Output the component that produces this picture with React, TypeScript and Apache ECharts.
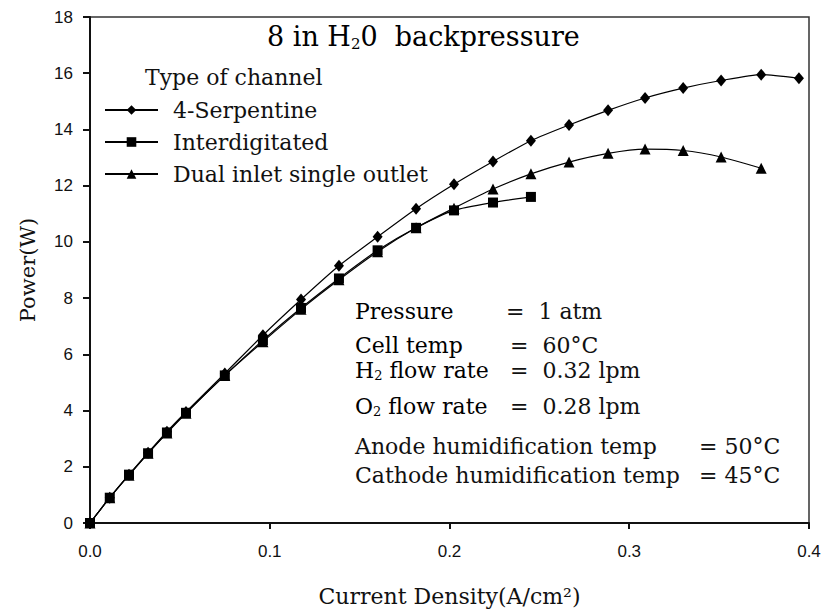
import React, { useEffect, useRef } from "react";
import * as echarts from "echarts";

// Current density (A/cm2) sample points shared by the three curves
const currentDensity = [
  0, 0.011, 0.0217, 0.0323, 0.0428, 0.0534, 0.075, 0.0962, 0.1174, 0.1385, 0.16,
  0.1814, 0.2025, 0.2242, 0.2453, 0.2665, 0.2882, 0.3088, 0.33, 0.3511, 0.3734, 0.3944,
];
const serpentinePower = [
  0, 0.9, 1.72, 2.5, 3.25, 3.95, 5.32, 6.68, 7.95, 9.15, 10.18, 11.18, 12.05, 12.86,
  13.6, 14.16, 14.68, 15.12, 15.47, 15.74, 15.95, 15.82,
];
const interdigitatedPower = [
  0, 0.9, 1.72, 2.48, 3.22, 3.92, 5.25, 6.5, 7.65, 8.7, 9.7, 10.5, 11.12, 11.4, 11.6,
];
const dualInletPower = [
  0, 0.9, 1.7, 2.48, 3.2, 3.9, 5.25, 6.45, 7.6, 8.65, 9.65, 10.5, 11.2, 11.88, 12.42,
  12.84, 13.15, 13.3, 13.25, 13.02, 12.62,
];
const seriesNames = ["4-Serpentine", "Interdigitated", "Dual inlet single outlet"];
const seriesSymbols = ["diamond", "rect", "triangle"];
const seriesSymbolSizes = [[10, 12], 10, 11];
const seriesPower = [serpentinePower, interdigitatedPower, dualInletPower];

const annotationLabels = ["Pressure", "Cell temp", "H|2| flow rate", "O|2| flow rate"];
const annotationValues = ["1 atm", "60°C", "0.32 lpm", "0.28 lpm"];
const humidLabels = ["Anode humidification temp", "Cathode humidification temp"];
const humidValues = ["50°C", "45°C"];

const SERIF = "'DejaVu Serif', serif";
const SANS = "'Liberation Sans', Arial, sans-serif";
const FS = 22;

function subRich(label: string) {
  const parts = label.split("|");
  return parts.map((p, i) => (i % 2 === 1 ? `{sub|${p}}` : `{n|${p}}`)).join("");
}

export default function App() {
  const ref = useRef<HTMLDivElement>(null);
  useEffect(() => {
    if (!ref.current) return;
    const chart = echarts.init(ref.current, undefined, { renderer: "svg" });
    const richBase = {
      n: { fontFamily: SERIF, fontSize: FS, color: "#111", lineHeight: 24 },
      sub: { fontFamily: SERIF, fontSize: 13, color: "#111", lineHeight: 24, verticalAlign: "bottom" },
    };
    const annY = [311, 345, 370, 406];
    const graphics: any[] = [
      {
        type: "text",
        x: 267,
        y: 36,
        style: {
          text: "{n|8 in H}{sub|2}{n|0  backpressure}",
          verticalAlign: "middle",
          rich: {
            n: { fontFamily: SERIF, fontSize: 27, color: "#111", lineHeight: 30 },
            sub: { fontFamily: SERIF, fontSize: 15, color: "#111", lineHeight: 30, verticalAlign: "bottom" },
          },
        },
      },
      {
        type: "text",
        x: 145,
        y: 77,
        style: { text: "Type of channel", fontFamily: SERIF, fontSize: FS, fill: "#111", verticalAlign: "middle" },
      },
    ];
    annotationLabels.forEach((lab, i) => {
      graphics.push({
        type: "text",
        x: 355,
        y: annY[i],
        style: { text: subRich(lab), verticalAlign: "middle", rich: richBase },
      });
      graphics.push({
        type: "text",
        x: 506 + (i > 0 ? 4 : 0),
        y: annY[i],
        style: { text: "=  " + annotationValues[i], fontFamily: SERIF, fontSize: FS, fill: "#111", verticalAlign: "middle" },
      });
    });
    const humY = [446, 475];
    humidLabels.forEach((lab, i) => {
      graphics.push({
        type: "text",
        x: 355,
        y: humY[i],
        style: { text: lab, fontFamily: SERIF, fontSize: FS, fill: "#111", verticalAlign: "middle" },
      });
      graphics.push({
        type: "text",
        x: 699,
        y: humY[i],
        style: { text: "= " + humidValues[i], fontFamily: SERIF, fontSize: FS, fill: "#111", verticalAlign: "middle" },
      });
    });

    chart.setOption({
      animation: false,
      backgroundColor: "#fff",
      grid: {
        left: 90,
        right: 17,
        top: 17,
        bottom: 90,
        show: true,
        borderColor: "#333",
        borderWidth: 1.5,
        backgroundColor: "transparent",
      },
      legend: {
        data: seriesNames,
        orient: "vertical",
        left: 99,
        top: 94,
        itemWidth: 53,
        itemHeight: 12,
        itemGap: 10,
        textStyle: { fontFamily: SERIF, fontSize: FS, color: "#111", lineHeight: 20, padding: [0, 0, 0, 10] },
        inactiveColor: "#000",
      },
      xAxis: {
        type: "value",
        min: 0,
        max: 0.4,
        interval: 0.1,
        name: "Current Density(A/cm²)",
        nameLocation: "middle",
        nameGap: 62,
        nameTextStyle: { fontFamily: SERIF, fontSize: 22, color: "#111" },
        axisLine: { show: true, lineStyle: { color: "#111", width: 2 } },
        axisTick: { show: true, length: 6, lineStyle: { color: "#111", width: 2 } },
        axisLabel: { margin: 20, fontFamily: SANS, fontSize: 17, color: "#111", formatter: (v: number) => v.toFixed(1) },
        splitLine: { show: false },
      },
      yAxis: {
        type: "value",
        min: 0,
        max: 18,
        interval: 2,
        name: "Power(W)",
        nameLocation: "middle",
        nameGap: 52,
        nameRotate: 90,
        nameTextStyle: { fontFamily: SERIF, fontSize: 21, color: "#111" },
        axisLine: { show: true, lineStyle: { color: "#111", width: 2 } },
        axisTick: { show: true, length: 7, lineStyle: { color: "#111", width: 2 } },
        axisLabel: { margin: 17, fontFamily: SANS, fontSize: 17, color: "#111" },
        splitLine: { show: false },
      },
      series: seriesNames.map((name, si) => ({
        name,
        type: "line",
        data: seriesPower[si].map((p, i) => [currentDensity[i], p]),
        symbol: seriesSymbols[si],
        symbolSize: seriesSymbolSizes[si],
        showAllSymbol: true,
        smooth: 0.2,
        lineStyle: { color: "#000", width: 1.2 },
        itemStyle: { color: "#000" },
        z: 3 - si,
      })),
      graphic: graphics,
    });
    return () => chart.dispose();
  }, []);
  return (
    <div
      ref={ref}
      style={{ position: "fixed", left: 0, top: 0, width: 826, height: 613 }}
    />
  );
}
